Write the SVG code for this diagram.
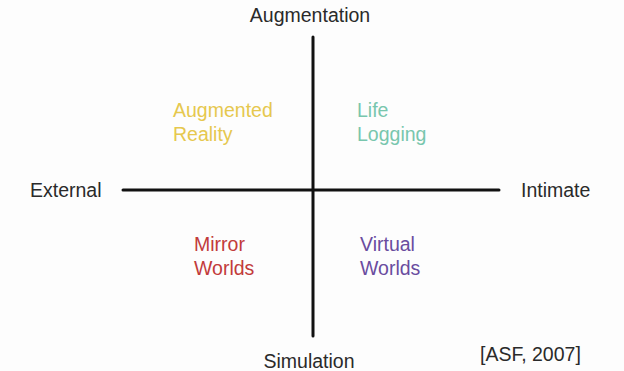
<svg xmlns="http://www.w3.org/2000/svg" width="624" height="371" viewBox="0 0 624 371">
<style>
text{font-family:"Liberation Sans",Arial,sans-serif;font-size:19.5px}
.axis{fill:#2a2a2a}
.ar{fill:#e6c84e}
.ll{fill:#78c6ad}
.mw{fill:#c23b3b}
.vw{fill:#6a4c9f}
line{stroke:#111;stroke-width:3;stroke-linecap:round}
</style>
<rect width="624" height="371" fill="#fdfdfd"/>
<g id="connectors">
<line x1="313" y1="37" x2="313" y2="336"/>
<line x1="123" y1="190" x2="499" y2="190"/>
</g>
<g id="augmentation"><text class="axis" x="310" y="22" text-anchor="middle">Augmentation</text></g>
<g id="simulation"><text class="axis" x="309" y="368" text-anchor="middle">Simulation</text></g>
<g id="external"><text class="axis" x="30" y="197">External</text></g>
<g id="intimate"><text class="axis" x="521" y="197">Intimate</text></g>
<g id="augmented-reality"><text class="ar" x="173" y="117">Augmented</text><text class="ar" x="173" y="141">Reality</text></g>
<g id="life-logging"><text class="ll" x="357" y="117">Life</text><text class="ll" x="357" y="141">Logging</text></g>
<g id="mirror-worlds"><text class="mw" x="194" y="251">Mirror</text><text class="mw" x="194" y="275">Worlds</text></g>
<g id="virtual-worlds"><text class="vw" x="360" y="251">Virtual</text><text class="vw" x="360" y="275">Worlds</text></g>
<g id="citation"><text class="axis" x="480" y="361">[ASF, 2007]</text></g>
</svg>
